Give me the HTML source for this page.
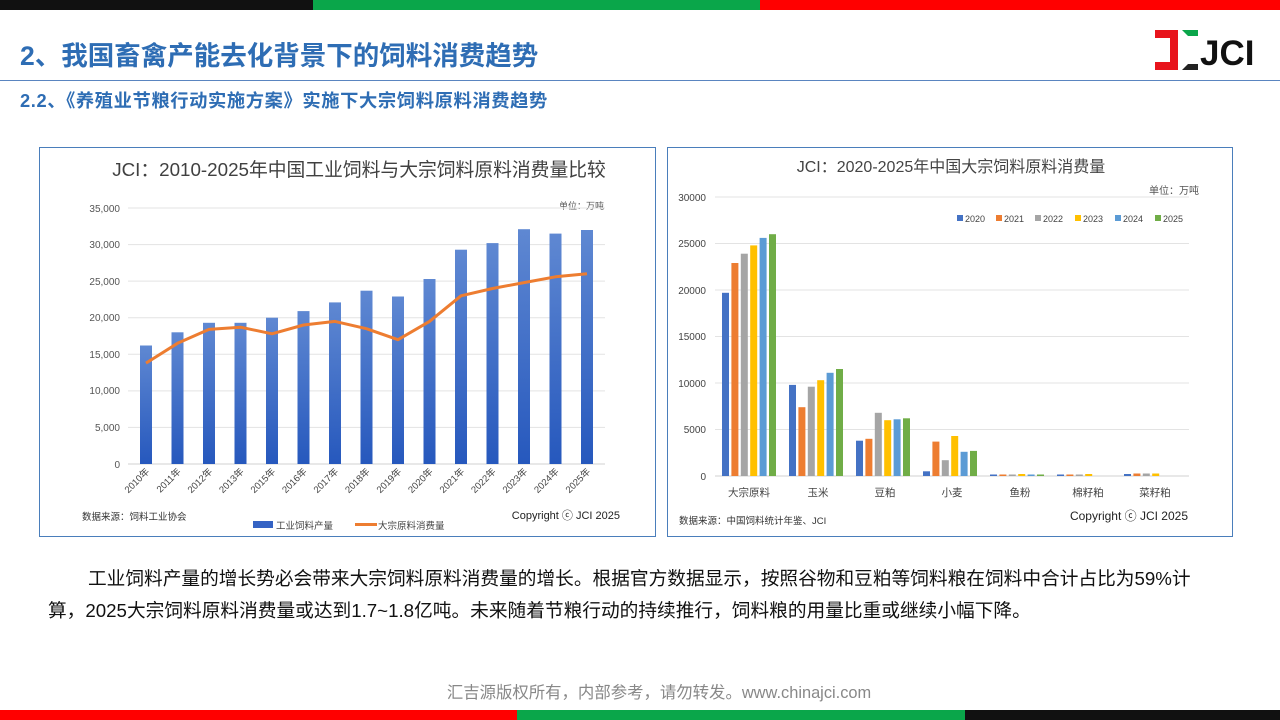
<!DOCTYPE html>
<html><head><meta charset="utf-8"><style>
*{margin:0;padding:0;box-sizing:border-box}
body{width:1280px;height:720px;position:relative;background:#fff;font-family:"Liberation Sans","Noto Sans CJK SC",sans-serif;overflow:hidden}
.a{position:absolute}
</style></head><body>
<div class="a" style="left:0;top:0;width:313px;height:10px;background:#111"></div>
<div class="a" style="left:313px;top:0;width:447px;height:10px;background:#0aa64a"></div>
<div class="a" style="left:760px;top:0;width:520px;height:10px;background:#f00"></div>
<div class="a" style="left:0;top:710px;width:517px;height:10px;background:#f00"></div>
<div class="a" style="left:517px;top:710px;width:448px;height:10px;background:#0aa64a"></div>
<div class="a" style="left:965px;top:710px;width:315px;height:10px;background:#111"></div>

<div class="a" style="left:20px;top:39px;font-size:26.5px;font-weight:bold;color:#2e6db4;line-height:34px;white-space:nowrap">2、我国畜禽产能去化背景下的饲料消费趋势</div>
<div class="a" style="left:0;top:80px;width:1280px;height:1px;background:#5a85c0"></div>
<div class="a" style="left:20px;top:89px;font-size:18.3px;font-weight:bold;color:#2e6db4;line-height:24px;white-space:nowrap;letter-spacing:0.6px">2.2、《养殖业节粮行动实施方案》实施下大宗饲料原料消费趋势</div>

<svg class="a" style="left:1150px;top:26px" width="120" height="48" viewBox="0 0 120 48">
<path d="M5 4 H28 V44 H5 V36 H20 V12 H5 Z" fill="#e8141c"/>
<path d="M32 4 H48 V10 H38 Z" fill="#0aa64a"/>
<path d="M32 44 H48 V38 H38 Z" fill="#222"/>
<text x="50" y="39" font-size="35" font-weight="bold" font-family="Liberation Sans,sans-serif" fill="#111">JCI</text>
</svg>

<svg class="a" style="left:0;top:0" width="1280" height="720">
<defs><linearGradient id="g" x1="0" y1="0" x2="0" y2="1"><stop offset="0" stop-color="#5f88d2"/><stop offset="1" stop-color="#2658bd"/></linearGradient></defs>
<rect x="39.5" y="147.5" width="616" height="389" fill="#fff" stroke="#4a7ebb"/>
<text x="359" y="176" font-size="18.8" text-anchor="middle" fill="#404040" font-family="Liberation Sans,Noto Sans CJK SC,sans-serif">JCI：2010-2025年中国工业饲料与大宗饲料原料消费量比较</text>
<text x="604" y="209" font-size="9" text-anchor="end" fill="#555" font-family="Liberation Sans,Noto Sans CJK SC,sans-serif">单位：万吨</text>
<g stroke="#e3e3e3" stroke-width="1">
<line x1="128" x2="605" y1="208" y2="208"/><line x1="128" x2="605" y1="244.6" y2="244.6"/><line x1="128" x2="605" y1="281.1" y2="281.1"/><line x1="128" x2="605" y1="317.7" y2="317.7"/><line x1="128" x2="605" y1="354.3" y2="354.3"/><line x1="128" x2="605" y1="390.9" y2="390.9"/><line x1="128" x2="605" y1="427.4" y2="427.4"/>
</g>
<line x1="128" x2="605" y1="464" y2="464" stroke="#d0d0d0"/>
<g font-size="10" fill="#555" text-anchor="end" font-family="Liberation Sans,sans-serif">
<text x="120" y="212">35,000</text><text x="120" y="248">30,000</text><text x="120" y="285">25,000</text><text x="120" y="321">20,000</text><text x="120" y="358">15,000</text><text x="120" y="394">10,000</text><text x="120" y="431">5,000</text><text x="120" y="468">0</text>
</g>
<g fill="url(#g)">
<rect x="140" y="345.5" width="12" height="118.5"/><rect x="171.5" y="332.3" width="12" height="131.7"/><rect x="203" y="322.8" width="12" height="141.2"/><rect x="234.5" y="322.8" width="12" height="141.2"/><rect x="266" y="317.7" width="12" height="146.3"/><rect x="297.5" y="311.1" width="12" height="152.9"/><rect x="329" y="302.4" width="12" height="161.6"/><rect x="360.5" y="290.7" width="12" height="173.3"/><rect x="392" y="296.5" width="12" height="167.5"/><rect x="423.5" y="279" width="12" height="185"/><rect x="455" y="249.7" width="12" height="214.3"/><rect x="486.5" y="243.1" width="12" height="220.9"/><rect x="518" y="229.2" width="12" height="234.8"/><rect x="549.5" y="233.6" width="12" height="230.4"/><rect x="581" y="230" width="12" height="234"/>
</g>
<polyline fill="none" stroke="#ed7d31" stroke-width="3" stroke-linejoin="round" points="146,363.1 177.5,343.3 209,329.4 240.5,327.2 272,333.8 303.5,325 335,321.4 366.5,328.7 398,339.7 429.5,321.4 461,295.8 492.5,288.5 524,282.6 555.5,276.8 587,273.8"/>
<g font-size="9.5" fill="#444" text-anchor="end" font-family="Liberation Sans,Noto Sans CJK SC,sans-serif">
<text transform="translate(150,472) rotate(-45)">2010年</text><text transform="translate(181.5,472) rotate(-45)">2011年</text><text transform="translate(213,472) rotate(-45)">2012年</text><text transform="translate(244.5,472) rotate(-45)">2013年</text><text transform="translate(276,472) rotate(-45)">2015年</text><text transform="translate(307.5,472) rotate(-45)">2016年</text><text transform="translate(339,472) rotate(-45)">2017年</text><text transform="translate(370.5,472) rotate(-45)">2018年</text><text transform="translate(402,472) rotate(-45)">2019年</text><text transform="translate(433.5,472) rotate(-45)">2020年</text><text transform="translate(465,472) rotate(-45)">2021年</text><text transform="translate(496.5,472) rotate(-45)">2022年</text><text transform="translate(528,472) rotate(-45)">2023年</text><text transform="translate(559.5,472) rotate(-45)">2024年</text><text transform="translate(591,472) rotate(-45)">2025年</text>
</g>
<text x="82" y="520" font-size="9.5" fill="#333" font-family="Liberation Sans,Noto Sans CJK SC,sans-serif">数据来源：饲料工业协会</text>
<text x="620" y="519" font-size="11" text-anchor="end" fill="#222" font-family="Liberation Sans,sans-serif">Copyright ⓒ JCI 2025</text>
<rect x="253" y="521" width="20" height="7" fill="#3563c4"/>
<text x="276" y="529" font-size="9.5" fill="#444" font-family="Liberation Sans,Noto Sans CJK SC,sans-serif">工业饲料产量</text>
<line x1="355" x2="377" y1="524.5" y2="524.5" stroke="#ed7d31" stroke-width="3"/>
<text x="378" y="529" font-size="9.5" fill="#444" font-family="Liberation Sans,Noto Sans CJK SC,sans-serif">大宗原料消费量</text>

<rect x="667.5" y="147.5" width="565" height="389" fill="#fff" stroke="#4a7ebb"/>
<text x="951" y="172" font-size="16" text-anchor="middle" fill="#444" font-family="Liberation Sans,Noto Sans CJK SC,sans-serif">JCI：2020-2025年中国大宗饲料原料消费量</text>
<text x="1199" y="194" font-size="10" text-anchor="end" fill="#555" font-family="Liberation Sans,Noto Sans CJK SC,sans-serif">单位：万吨</text>
<g stroke="#e3e3e3"><line x1="715" x2="1189" y1="197" y2="197"/><line x1="715" x2="1189" y1="243.5" y2="243.5"/><line x1="715" x2="1189" y1="290" y2="290"/><line x1="715" x2="1189" y1="336.5" y2="336.5"/><line x1="715" x2="1189" y1="383" y2="383"/><line x1="715" x2="1189" y1="429.5" y2="429.5"/></g>
<line x1="715" x2="1189" y1="476" y2="476" stroke="#d0d0d0"/>
<g font-size="10" fill="#444" text-anchor="end" font-family="Liberation Sans,sans-serif">
<text x="706" y="201">30000</text><text x="706" y="247">25000</text><text x="706" y="294">20000</text><text x="706" y="340">15000</text><text x="706" y="387">10000</text><text x="706" y="433">5000</text><text x="706" y="480">0</text>
</g>
<g fill="#4472c4"><rect x="722" y="292.8" width="7" height="183.2"/><rect x="789" y="384.9" width="7" height="91.1"/><rect x="856" y="440.7" width="7" height="35.3"/><rect x="923" y="471.3" width="7" height="4.7"/><rect x="990" y="474.5" width="7" height="1.5"/><rect x="1057" y="474.5" width="7" height="1.5"/><rect x="1124" y="474" width="7" height="2"/></g>
<g fill="#ed7d31"><rect x="731.4" y="263" width="7" height="213"/><rect x="798.4" y="407.2" width="7" height="68.8"/><rect x="865.4" y="438.8" width="7" height="37.2"/><rect x="932.4" y="441.6" width="7" height="34.4"/><rect x="999.4" y="474.5" width="7" height="1.5"/><rect x="1066.4" y="474.5" width="7" height="1.5"/><rect x="1133.4" y="473.5" width="7" height="2.5"/></g>
<g fill="#a5a5a5"><rect x="740.8" y="253.7" width="7" height="222.3"/><rect x="807.8" y="386.7" width="7" height="89.3"/><rect x="874.8" y="412.8" width="7" height="63.2"/><rect x="941.8" y="460.2" width="7" height="15.8"/><rect x="1008.8" y="474.5" width="7" height="1.5"/><rect x="1075.8" y="474.5" width="7" height="1.5"/><rect x="1142.8" y="473.5" width="7" height="2.5"/></g>
<g fill="#ffc000"><rect x="750.2" y="245.4" width="7" height="230.6"/><rect x="817.2" y="380.2" width="7" height="95.8"/><rect x="884.2" y="420.2" width="7" height="55.8"/><rect x="951.2" y="436" width="7" height="40"/><rect x="1018.2" y="474" width="7" height="2"/><rect x="1085.2" y="474" width="7" height="2"/><rect x="1152.2" y="473.5" width="7" height="2.5"/></g>
<g fill="#5b9bd5"><rect x="759.6" y="237.9" width="7" height="238.1"/><rect x="826.6" y="372.8" width="7" height="103.2"/><rect x="893.6" y="419.3" width="7" height="56.7"/><rect x="960.6" y="451.8" width="7" height="24.2"/><rect x="1027.6" y="474.5" width="7" height="1.5"/></g>
<g fill="#70ad47"><rect x="769" y="234.2" width="7" height="241.8"/><rect x="836" y="369" width="7" height="107"/><rect x="903" y="418.3" width="7" height="57.7"/><rect x="970" y="450.9" width="7" height="25.1"/><rect x="1037" y="474.5" width="7" height="1.5"/></g>
<g font-size="10.5" fill="#444" text-anchor="middle" font-family="Liberation Sans,Noto Sans CJK SC,sans-serif">
<text x="749" y="496">大宗原料</text><text x="818" y="496">玉米</text><text x="885" y="496">豆粕</text><text x="952" y="496">小麦</text><text x="1020" y="496">鱼粉</text><text x="1088" y="496">棉籽粕</text><text x="1155" y="496">菜籽粕</text>
</g>
<g font-size="9" fill="#444" font-family="Liberation Sans,sans-serif">
<rect x="957" y="215" width="6" height="6" fill="#4472c4"/><text x="965" y="222">2020</text>
<rect x="996" y="215" width="6" height="6" fill="#ed7d31"/><text x="1004" y="222">2021</text>
<rect x="1035" y="215" width="6" height="6" fill="#a5a5a5"/><text x="1043" y="222">2022</text>
<rect x="1075" y="215" width="6" height="6" fill="#ffc000"/><text x="1083" y="222">2023</text>
<rect x="1115" y="215" width="6" height="6" fill="#5b9bd5"/><text x="1123" y="222">2024</text>
<rect x="1155" y="215" width="6" height="6" fill="#70ad47"/><text x="1163" y="222">2025</text>
</g>
<text x="679" y="524" font-size="9.5" fill="#333" font-family="Liberation Sans,Noto Sans CJK SC,sans-serif">数据来源：中国饲料统计年鉴、JCI</text>
<text x="1188" y="520" font-size="12" text-anchor="end" fill="#222" font-family="Liberation Sans,sans-serif">Copyright ⓒ JCI 2025</text>
</svg>

<div class="a" style="left:48px;top:563px;width:1220px;font-size:18.7px;line-height:32px;color:#111;white-space:nowrap"><span style="padding-left:40px">工业饲料产量的增长势必会带来大宗饲料原料消费量的增长。根据官方数据显示，按照谷物和豆粕等饲料粮在饲料中合计占比为59%计</span><br>算，2025大宗饲料原料消费量或达到1.7~1.8亿吨。未来随着节粮行动的持续推行，饲料粮的用量比重或继续小幅下降。</div>

<div class="a" style="left:19px;top:679px;width:1280px;text-align:center;font-size:16.4px;color:#888">汇吉源版权所有，内部参考，请勿转发。www.chinajci.com</div>
</body></html>
